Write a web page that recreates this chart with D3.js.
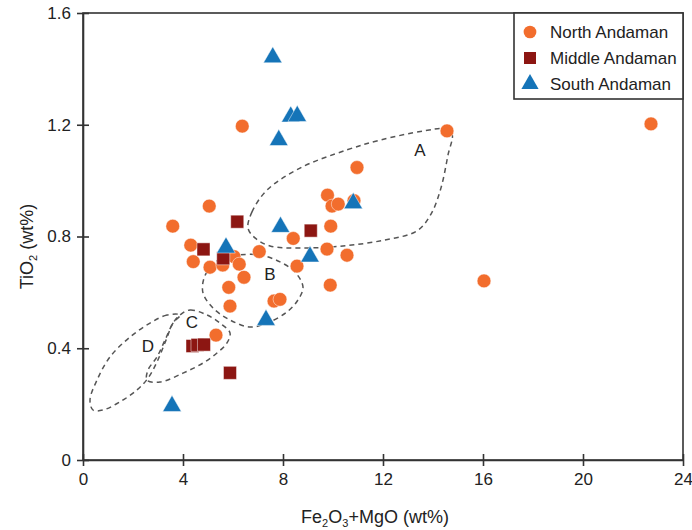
<!DOCTYPE html>
<html lang="en">
<head>
<meta charset="UTF-8">
<style>
  body { margin: 0; background: #fff; }
  text { font-family: "Liberation Sans", Arial, sans-serif; fill: #222; }
  .axis path, .axis line { stroke: #333; stroke-width: 1.6; fill: none; }
  .axis text { font-size: 17px; fill: #222; }
  .frame { fill: none; stroke: #333; stroke-width: 1.6; }
  .field { fill: none; stroke: #555; stroke-width: 1.5; stroke-dasharray: 5,4; }
  .field-label { font-size: 17px; text-anchor: middle; }
  .legend text { font-size: 17px; }
</style>
</head>
<body>
<div id="chart"></div>
<script src="https://cdnjs.cloudflare.com/ajax/libs/d3/7.8.5/d3.min.js"></script>
<script>
// axis ticks
var xTicks = [0, 4, 8, 12, 16, 20, 24];
var yTicks = [0, 0.4, 0.8, 1.2, 1.6];

// samples [Fe2O3+MgO, TiO2]
var north = [
  [3.59, 0.837], [5.05, 0.909], [4.31, 0.769], [4.41, 0.710], [5.08, 0.690],
  [5.59, 0.698], [6.04, 0.728], [6.25, 0.701], [6.44, 0.654], [7.05, 0.746],
  [5.83, 0.618], [5.88, 0.551], [7.64, 0.569], [7.88, 0.575], [5.32, 0.447],
  [6.37, 1.195], [14.56, 1.178], [22.72, 1.203], [16.04, 0.641], [10.96, 1.047],
  [9.78, 0.948], [9.96, 0.909], [10.21, 0.916], [10.84, 0.928], [9.91, 0.837],
  [8.41, 0.793], [9.76, 0.755], [10.56, 0.733], [8.56, 0.694], [9.89, 0.626]
];
var middle = [
  [6.17, 0.853], [9.11, 0.821], [4.82, 0.754], [5.61, 0.722],
  [4.38, 0.408], [4.58, 0.412], [4.84, 0.413], [5.88, 0.312]
];
var south = [
  [7.59, 1.441], [8.31, 1.229], [8.57, 1.231], [7.83, 1.145], [7.90, 0.834],
  [10.81, 0.919], [5.72, 0.760], [9.08, 0.728], [7.32, 0.501], [3.56, 0.193]
];

// dashed fields (outline points in data units)
var fieldA = [[6.6, 0.830], [6.76, 0.888], [7.36, 0.966], [8.68, 1.045], [10.56, 1.110],
  [11.88, 1.145], [13.64, 1.178], [14.44, 1.185], [14.76, 1.167], [14.6, 1.092],
  [14.32, 0.974], [13.92, 0.880], [13.36, 0.820], [12.04, 0.787], [10.4, 0.766],
  [8.68, 0.759], [7.48, 0.766], [6.88, 0.795]];
var fieldB = [[5.08, 0.687], [5.6, 0.727], [6.16, 0.734], [7.08, 0.734], [7.88, 0.709],
  [8.48, 0.673], [8.8, 0.619], [8.6, 0.573], [8.16, 0.530], [7.36, 0.490],
  [6.68, 0.476], [5.88, 0.501], [5.2, 0.544], [4.8, 0.598], [4.84, 0.651]];
var fieldC = [[3.88, 0.519], [4.28, 0.537], [4.96, 0.519], [5.48, 0.490], [5.88, 0.455],
  [5.76, 0.419], [5.36, 0.383], [4.8, 0.347], [4.0, 0.311], [3.08, 0.279],
  [2.56, 0.286], [2.6, 0.322], [2.96, 0.369], [3.28, 0.429], [3.6, 0.490]];
var fieldD = [[3.88, 0.519], [3.36, 0.519], [2.68, 0.490], [1.88, 0.440], [1.08, 0.369],
  [0.56, 0.286], [0.28, 0.215], [0.4, 0.179], [0.8, 0.179], [1.48, 0.208],
  [2.16, 0.251], [2.6, 0.293], [2.96, 0.351], [3.32, 0.429], [3.6, 0.490]];
var fieldNames = ["A", "B", "C", "D"];
var fieldLabelPos = [[13.48, 1.11], [7.48, 0.666], [4.36, 0.494], [2.6, 0.408]];

var seriesNames = ["North Andaman", "Middle Andaman", "South Andaman"];
var seriesColors = ["#f26d2d", "#8c1612", "#1574b8"];

var margin = { top: 13, right: 9, bottom: 70, left: 83 },
    width = 692 - margin.left - margin.right,
    height = 530 - margin.top - margin.bottom;

var svg = d3.select("#chart").append("svg")
    .attr("width", 692)
    .attr("height", 530)
  .append("g")
    .attr("transform", "translate(" + margin.left + "," + margin.top + ")");

var x = d3.scaleLinear().domain([0, 24]).range([0, width]);
var y = d3.scaleLinear().domain([0, 1.6]).range([height, 0]);

// frame
svg.append("rect").attr("class", "frame")
    .attr("x", 0).attr("y", 0).attr("width", width).attr("height", height);

var xAxis = svg.append("g").attr("class", "axis")
    .attr("transform", "translate(0," + height + ")")
    .call(d3.axisBottom(x).tickValues(xTicks).tickFormat(d3.format("d"))
      .tickSizeInner(6).tickSizeOuter(0).tickPadding(7));
xAxis.selectAll(".tick line").attr("y1", -6);

var yAxis = svg.append("g").attr("class", "axis")
    .call(d3.axisLeft(y).tickValues(yTicks).tickFormat(function (d) { return d === 0 ? "0" : d3.format(".1f")(d); })
      .tickSizeInner(6).tickSizeOuter(0).tickPadding(6));
yAxis.selectAll(".tick line").attr("x1", 6);

// axis titles
var xt = svg.append("text")
    .attr("x", width / 2 - 8).attr("y", height + 63)
    .attr("text-anchor", "middle").style("font-size", "18px");
xt.append("tspan").text("Fe");
xt.append("tspan").text("2").attr("dy", 4).style("font-size", "11px");
xt.append("tspan").text("O").attr("dy", -4);
xt.append("tspan").text("3").attr("dy", 4).style("font-size", "11px");
xt.append("tspan").text("+MgO (wt%)").attr("dy", -4);

var yt = svg.append("text")
    .attr("transform", "translate(-50," + (height / 2 + 10) + ") rotate(-90)")
    .attr("text-anchor", "middle").style("font-size", "18px");
yt.append("tspan").text("TiO");
yt.append("tspan").text("2").attr("dy", 4).style("font-size", "11px");
yt.append("tspan").text(" (wt%)").attr("dy", -4);

// fields
var outline = d3.line()
    .x(function (d) { return x(d[0]); })
    .y(function (d) { return y(d[1]); })
    .curve(d3.curveCatmullRomClosed.alpha(0.5));

svg.selectAll(".field")
    .data([fieldA, fieldB, fieldC, fieldD])
    .enter().append("path")
    .attr("class", "field")
    .attr("d", outline);

svg.selectAll(".field-label")
    .data(fieldNames)
    .enter().append("text")
    .attr("class", "field-label")
    .attr("x", function (d, i) { return x(fieldLabelPos[i][0]); })
    .attr("y", function (d, i) { return y(fieldLabelPos[i][1]); })
    .attr("dy", "0.36em")
    .text(function (d) { return d; });

// markers
var sym = [d3.symbolCircle, d3.symbolSquare, d3.symbolTriangle];
var symSize = [150, 170, 150];
var groups = [north, middle, south];

groups.forEach(function (data, i) {
  svg.append("g").selectAll("path")
    .data(data)
    .enter().append("path")
    .attr("d", d3.symbol().type(sym[i]).size(symSize[i]))
    .attr("transform", function (d) { return "translate(" + x(d[0]) + "," + y(d[1]) + ")"; })
    .attr("fill", seriesColors[i])
    .attr("stroke", "#fff")
    .attr("stroke-opacity", 0.6)
    .attr("stroke-width", 0.8);
});

// legend
var legend = svg.append("g").attr("class", "legend")
    .attr("transform", "translate(" + (width - 169) + ",0)");
legend.append("rect")
    .attr("width", 169).attr("height", 86)
    .attr("fill", "#fff").attr("stroke", "#333").attr("stroke-width", 1.6);

var item = legend.selectAll(".item")
    .data(seriesNames)
    .enter().append("g")
    .attr("class", "item")
    .attr("transform", function (d, i) { return "translate(16," + (19 + i * 26) + ")"; });
item.append("path")
    .attr("d", function (d, i) { return d3.symbol().type(sym[i]).size(symSize[i] * 0.85)(); })
    .attr("fill", function (d, i) { return seriesColors[i]; });
item.append("text")
    .attr("x", 20).attr("dy", "0.36em")
    .text(function (d) { return d; });
</script>
</body>
</html>
